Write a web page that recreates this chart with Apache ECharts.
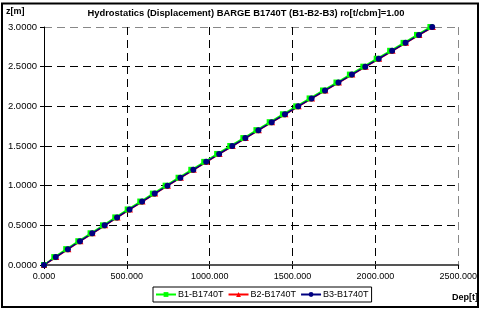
<!DOCTYPE html>
<html>
<head>
<meta charset="utf-8">
<script src="https://cdn.jsdelivr.net/npm/echarts@6/dist/echarts.min.js"></script>
<style>
    html, body { margin: 0; padding: 0; background: #fff; }
    #chart { width: 480px; height: 312px; }
</style>
</head>
<body>
<div id="chart"></div>
<script>
    // draft z[m], every 0.1 m
    var draft = [0.0, 0.1, 0.2, 0.3, 0.4, 0.5, 0.6, 0.7, 0.8, 0.9, 1.0,
        1.1, 1.2, 1.3, 1.4, 1.5, 1.6, 1.7, 1.8, 1.9, 2.0,
        2.1, 2.2, 2.3, 2.4, 2.5, 2.6, 2.7, 2.8, 2.9, 3.0];
    // displacement [t] per barge
    var depB1 = [0, 62, 134, 207, 281, 356, 430, 505, 581, 657, 734,
        812, 889, 967, 1045, 1124, 1203, 1282, 1362, 1442, 1522,
        1603, 1684, 1765, 1846, 1927, 2008, 2089, 2170, 2251, 2332];
    var depB2 = [0, 74, 147, 220, 294, 369, 444, 519, 595, 671, 748,
        826, 904, 982, 1060, 1139, 1218, 1297, 1377, 1457, 1537,
        1618, 1699, 1780, 1861, 1942, 2023, 2104, 2185, 2266, 2347];
    var depB3 = [0, 71, 144, 217, 291, 366, 441, 516, 592, 668, 745,
        823, 901, 979, 1057, 1136, 1215, 1294, 1374, 1454, 1534,
        1615, 1696, 1777, 1858, 1939, 2020, 2101, 2182, 2263, 2343];
    var seriesNames = ['B1-B1740T', 'B2-B1740T', 'B3-B1740T'];

    var font = "'Liberation Sans', Arial, sans-serif";

    function pairs(xs) {
        return xs.map(function (x, i) { return [x, draft[i]]; });
    }

    var chart = echarts.init(document.getElementById('chart'));
    var dash = [8, 5];

    var option = {
        animation: false,
        textStyle: { fontFamily: font },
        grid: { left: 44, right: 17, top: 27, bottom: 47 },
        legend: {
            left: 153,
            top: 287,
            orient: 'horizontal',
            data: seriesNames,
            itemWidth: 20,
            itemHeight: 6,
            itemGap: 4,
            padding: [3, 3, 3, 2],
            borderColor: '#000',
            borderWidth: 1,
            textStyle: { fontSize: 9, color: '#000', fontFamily: font, padding: [0, 0, 0, -3] }
        },
        xAxis: [{
            type: 'value',
            min: 0, max: 2500, interval: 500,
            axisLine: { show: true, lineStyle: { color: '#555', width: 2 } },
            axisTick: { show: true, inside: false, length: 4, lineStyle: { color: '#000' } },
            axisLabel: { fontSize: 9, color: '#000', margin: 7, fontFamily: font,
                formatter: function (v) { return v.toFixed(3); } },
            splitLine: { show: true, lineStyle: {
                color: ['#000', '#000', '#000', '#000', '#000', '#888'], type: dash, width: 1 } }
        }],
        yAxis: [{
            type: 'value',
            min: 0, max: 3, interval: 0.5,
            axisLine: { show: true, lineStyle: { color: '#000', width: 1 } },
            axisTick: { show: true, inside: false, length: 4, lineStyle: { color: '#000' } },
            axisLabel: { fontSize: 9.5, color: '#000', margin: 7, fontFamily: font,
                formatter: function (v) { return v.toFixed(4); } },
            splitLine: { show: true, lineStyle: {
                color: ['#000', '#000', '#000', '#000', '#000', '#000', '#888'], type: dash, width: 1 } }
        }],
        series: [
            {
                name: seriesNames[0], type: 'line', data: pairs(depB1),
                symbol: 'rect', symbolSize: 6,
                itemStyle: { color: '#00ff00' },
                lineStyle: { color: '#00ff00', width: 1.5 }
            },
            {
                name: seriesNames[1], type: 'line', data: pairs(depB2),
                symbol: 'triangle', symbolSize: 6,
                itemStyle: { color: '#ff0000' },
                lineStyle: { color: '#ff0000', width: 1.5 }
            },
            {
                name: seriesNames[2], type: 'line', data: pairs(depB3),
                symbol: 'circle', symbolSize: 6,
                itemStyle: { color: '#000080' },
                lineStyle: { color: '#000080', width: 1.5 }
            }
        ],
        graphic: [
            { type: 'rect', silent: true, z: 100,
                shape: { x: 2, y: 3.5, width: 476, height: 303.5 },
                style: { fill: 'none', stroke: '#000', lineWidth: 2 } },
            { type: 'text', left: 6, top: 7,
                style: { text: 'z[m]', font: 'bold 9px ' + font, fill: '#000' } },
            { type: 'text', x: 246, y: 13,
                style: { text: 'Hydrostatics (Displacement) BARGE B1740T (B1-B2-B3) ro[t/cbm]=1.00',
                    font: 'bold 9.4px ' + font, fill: '#000', align: 'center', verticalAlign: 'middle' } },
            { type: 'text', x: 478, y: 298,
                style: { text: 'Dep[t]', font: 'bold 9px ' + font, fill: '#000', align: 'right', verticalAlign: 'middle' } }
        ]
    };

    chart.setOption(option);
</script>
</body>
</html>
